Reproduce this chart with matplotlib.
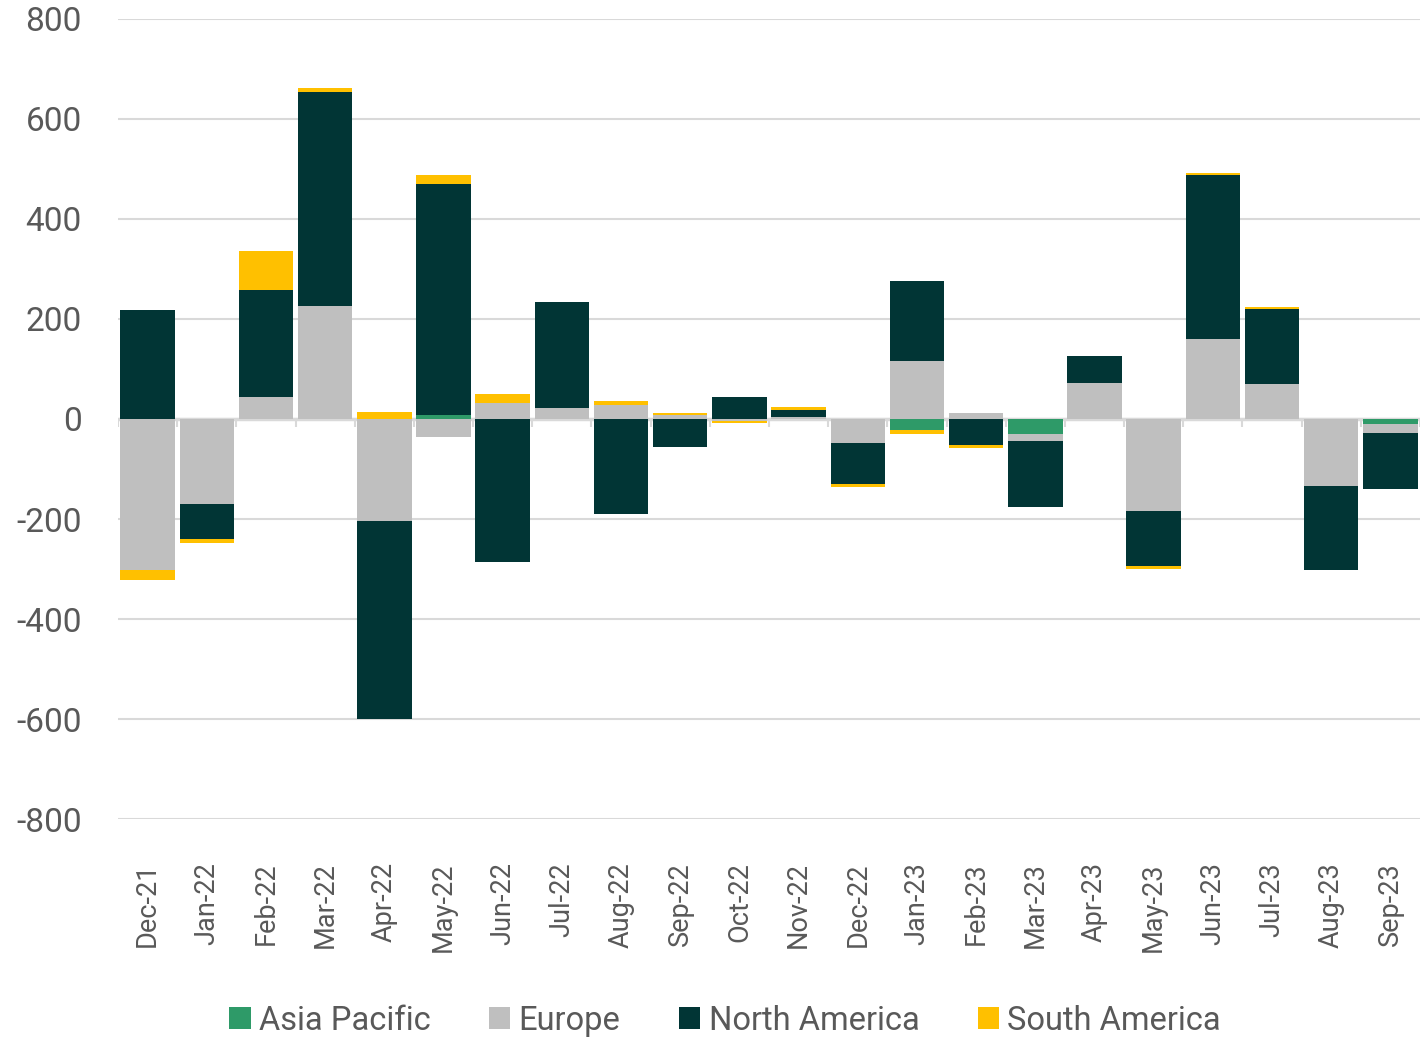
import numpy as np
import matplotlib.pyplot as plt

# monthly net change by region (stacked, positives up / negatives down)
months = ["Dec-21", "Jan-22", "Feb-22", "Mar-22", "Apr-22", "May-22", "Jun-22",
          "Jul-22", "Aug-22", "Sep-22", "Oct-22", "Nov-22", "Dec-22", "Jan-23",
          "Feb-23", "Mar-23", "Apr-23", "May-23", "Jun-23", "Jul-23", "Aug-23",
          "Sep-23"]
asia_pacific = [0, 0, 0, 0, 0, 8, 0, 0, 0, 0, 0, 0, 0, -22, 0, -30, 0, 0, 0, 0, 0, -10]
europe = [-302, -170, 44, 226, -204, -36, 32, 22, 28, 8, -5, 4, -48, 116, 12, -14,
          72, -184, 160, 70, -134, -18]
north_america = [218, -70, 214, 428, -396, 462, -286, 212, -190, -56, 44, 14, -82,
                 160, -52, -132, 54, -110, 328, 150, -168, -112]
south_america = [-20, -8, 78, 8, 14, 18, 18, 0, 8, 4, -3, 5, -5, -7, -5, 0, 0, -6,
                 4, 4, 0, 0]

series = [
    ("Asia Pacific", asia_pacific, "#2E9A68"),
    ("Europe", europe, "#BFBFBF"),
    ("North America", north_america, "#013535"),
    ("South America", south_america, "#FFC000"),
]

plt.rcParams['font.family'] = ['Roboto', 'DejaVu Sans']
plt.rcParams['axes.unicode_minus'] = False
text_color = "#595959"

fig = plt.figure(figsize=(14.22, 10.37), dpi=100)
ax = fig.add_axes([0.083, 0.2102, 0.9156, 0.7715])

x = np.arange(len(months))
pos_base = np.zeros(len(months))
neg_base = np.zeros(len(months))
for name, vals, color in series:
    v = np.array(vals, dtype=float)
    bottom = np.where(v >= 0, pos_base, neg_base)
    ax.bar(x, v, bottom=bottom, width=0.92, color=color, label=name, zorder=3)
    pos_base += np.where(v > 0, v, 0)
    neg_base += np.where(v < 0, v, 0)

ax.set_ylim(-800, 800)
ax.set_xlim(-0.5, len(months) - 0.5)
ax.set_yticks(np.arange(-800, 801, 200))
ax.yaxis.grid(True, color="#D9D9D9", linewidth=1.5, zorder=0)
ax.tick_params(axis="y", length=0, labelsize=24, labelcolor=text_color, pad=26)

ax.set_xticks(x)
ax.set_xticklabels(months, rotation=90)
ax.tick_params(axis="x", length=0, labelsize=19.5, labelcolor=text_color, pad=31)

for s in ax.spines.values():
    s.set_visible(False)

# zero line with category separator ticks
ax.axhline(0, color="#D9D9D9", linewidth=2.5, zorder=2)
ax.vlines(np.arange(len(months) + 1) - 0.5, -16, 0, color="#D9D9D9",
          linewidth=1.5, zorder=2)

fig.legend(loc="lower center", bbox_to_anchor=(0.51, -0.028), ncol=4,
           frameon=False, fontsize=23.5, handlelength=0.65, handleheight=0.65,
           handletextpad=0.25, columnspacing=1.8, labelcolor=text_color)

fig.savefig("out.png", dpi=100)
